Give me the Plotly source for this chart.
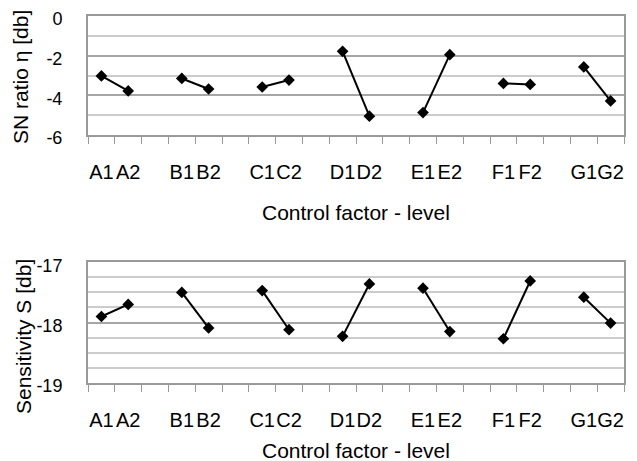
import plotly.graph_objects as go

factors = ["A", "B", "C", "D", "E", "F", "G"]
sn_level1 = [-3.02, -3.15, -3.58, -1.78, -4.87, -3.40, -2.57]
sn_level2 = [-3.78, -3.68, -3.23, -5.05, -1.95, -3.45, -4.28]
sens_level1 = [-17.90, -17.50, -17.47, -18.23, -17.43, -18.27, -17.58]
sens_level2 = [-17.70, -18.09, -18.12, -17.36, -18.15, -17.31, -18.01]

sn_ticks = [0, -2, -4, -6]
sens_ticks = [-17, -18, -19]

FONT = "Liberation Sans, Arial, sans-serif"
OFF = 8  # default page body margin
W, H = 637 - OFF, 461 - OFF

fig = go.Figure()

def add_series(l1, l2, xa, ya):
    for i, f in enumerate(factors):
        fig.add_trace(go.Scatter(
            x=[3 * i, 3 * i + 1], y=[l1[i], l2[i]],
            mode="lines+markers", xaxis=xa, yaxis=ya,
            line=dict(color="black", width=2),
            marker=dict(symbol="diamond", size=9, color="black"),
            showlegend=False, hoverinfo="skip"))

add_series(sn_level1, sn_level2, "x", "y")
add_series(sens_level1, sens_level2, "x2", "y2")

tickvals = []
ticktext = []
for i, f in enumerate(factors):
    tickvals += [3 * i, 3 * i + 1]
    ticktext += [f + "1", f + "2"]

def px(x):
    return (x - OFF) / W
def py(y):
    return 1 - (y - OFF) / H

xd = [px(88), px(624)]
def ydom(top, bottom):
    return [py(bottom), py(top)]

xcommon = dict(
    range=[-0.5, 19.5], domain=xd, tickmode="array", tickvals=tickvals,
    ticktext=ticktext, ticks="", showgrid=False, zeroline=False,
    showline=True, linecolor="#999999", linewidth=2, mirror=True,
    tickfont=dict(family=FONT, size=20, color="black"), tickangle=0,
    ticklabelstandoff=18, automargin=False, ticklabeloverflow="allow",
    minor=dict(tickmode="linear", tick0=-0.5, dtick=1, ticks="outside",
               ticklen=7, tickcolor="#999999", tickwidth=1, showgrid=False),
)

ycommon = dict(
    showgrid=True, gridcolor="#a6a6a6", gridwidth=1.5, zeroline=False,
    showline=True, linecolor="#999999", linewidth=2, mirror=True,
    ticks="", tickfont=dict(family=FONT, size=18, color="black"),
    ticklabelstandoff=20, ticklabelshift=3, automargin=False, tickmode="array",
    ticklabeloverflow="allow",
)

fig.update_layout(
    width=W, height=H, margin=dict(l=0, r=0, t=0, b=0),
    paper_bgcolor="white", plot_bgcolor="white",
    xaxis=dict(xcommon, anchor="y"),
    xaxis2=dict(xcommon, anchor="y2"),
    yaxis=dict(
        ycommon, range=[-6, 0], domain=ydom(16, 135),
        tickvals=sn_ticks, ticktext=[str(v) for v in sn_ticks],
        minor=dict(tickmode="linear", tick0=0, dtick=1, showgrid=True,
                   gridcolor="#cccccc", gridwidth=1.5),
    ),
    yaxis2=dict(
        ycommon, range=[-19, -17], domain=ydom(262.3, 382.7),
        tickvals=sens_ticks, ticktext=[str(v) for v in sens_ticks],
        minor=dict(tickmode="linear", tick0=-17, dtick=0.25, showgrid=True,
                   gridcolor="#cccccc", gridwidth=1.5),
    ),
)

def ann(text, x, y, angle=0):
    fig.add_annotation(text=text, x=px(x), y=py(y), xref="paper", yref="paper",
                       showarrow=False, textangle=angle, xanchor="center", yanchor="middle",
                       font=dict(family=FONT, size=21, color="black"))

ann("Control factor - level", 356, 212)
ann("Control factor - level", 356, 450)
ann("SN ratio η [db]", 20, 77, -90)
ann("Sensitivity S [db]", 23, 337, -90)

fig.write_html("out.html")
